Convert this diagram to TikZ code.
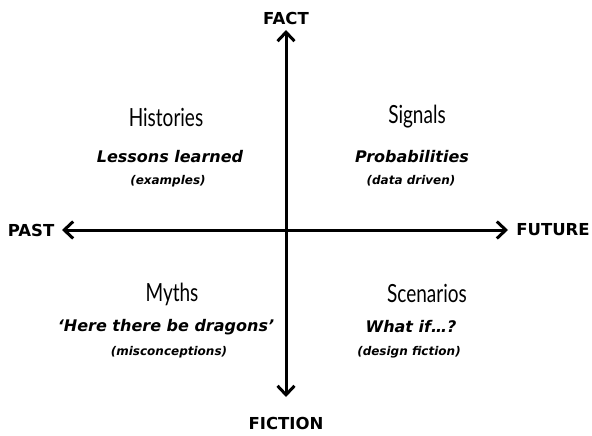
\documentclass[tikz,border=0pt]{standalone}
\usepackage{fontspec}
\setmainfont{Lato}
\newfontfamily\boldfam{DejaVu Sans}
\newfontfamily\headfam{Lato}[FakeStretch=0.76]
\usetikzlibrary{arrows.meta}
\tikzset{
  axis/.style={line width=3pt,-{Straight Barb[length=9pt,width=17pt,line width=3pt]}},
  axlabel/.style={font=\boldfam\fontsize{16.5}{18}\selectfont\bfseries},
  heading/.style={font=\headfam\fontsize{25}{27}\selectfont\fontseries{l}\selectfont},
  sub/.style={font=\boldfam\fontsize{16}{18}\selectfont\bfseries\itshape},
  note/.style={font=\boldfam\fontsize{12}{14}\selectfont\bfseries\itshape},
}
\begin{document}
\begin{tikzpicture}[x=1pt,y=-1pt]
\useasboundingbox (0,0) rectangle (592,436);
\node[axlabel] (fact) at (286,18) {FACT};
\node[axlabel] (fiction) at (286,423) {FICTION};
\node[axlabel] (past) at (31,230) {PAST};
\node[axlabel] (future) at (553,230) {FUTURE};
\coordinate (ctr) at (286,230);
\coordinate (top) at (286,30);
\coordinate (bot) at (286,397);
\coordinate (lft) at (62,230);
\coordinate (rgt) at (508,230);
\draw[axis] (ctr) -- (top);
\draw[axis] (ctr) -- (bot);
\draw[axis] (ctr) -- (lft);
\draw[axis] (ctr) -- (rgt);
\node[heading] (hist) at (166,117) {Histories};
\node[sub] (lessons) at (170,157) {Lessons learned};
\node[note] (examples) at (168,181) {(examples)};
\node[heading] (sig) at (417,117) {Signals};
\node[sub] (prob) at (412,157) {Probabilities};
\node[note] (data) at (411,181) {(data driven)};
\node[heading] (myth) at (172,294) {Myths};
\node[sub] (dragons) at (166,327) {‘Here there be dragons’};
\node[note] (misc) at (169,352) {(misconceptions)};
\node[heading] (scen) at (427,293) {Scenarios};
\node[sub] (whatif) at (411,327) {What if…?};
\node[note] (design) at (409,352) {(design fiction)};
\end{tikzpicture}
\end{document}
